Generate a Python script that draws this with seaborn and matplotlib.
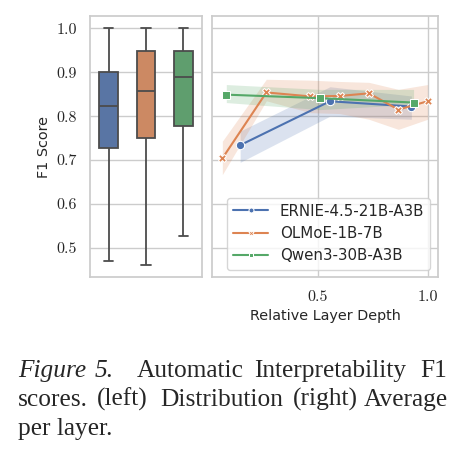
import numpy as np
import pandas as pd
import matplotlib
matplotlib.use("Agg")
import matplotlib.pyplot as plt
import seaborn as sns

# --- datos ---
modelos = ["ERNIE-4.5-21B-A3B", "OLMoE-1B-7B", "Qwen3-30B-A3B"]

# resumen de cinco numeros por modelo (min, q1, mediana, q3, max)
box_ernie = [0.471, 0.727, 0.823, 0.901, 1.0]
box_olmoe = [0.462, 0.751, 0.858, 0.948, 1.0]
box_qwen = [0.527, 0.778, 0.889, 0.948, 1.0]

# promedio por capa
depth_ernie = [0.148, 0.556, 0.926]
f1_ernie = [0.734, 0.834, 0.822]
lo_ernie = [0.695, 0.800, 0.793]
hi_ernie = [0.766, 0.867, 0.846]

depth_olmoe = [0.067, 0.267, 0.467, 0.600, 0.733, 0.867, 1.000]
f1_olmoe = [0.704, 0.854, 0.845, 0.846, 0.852, 0.815, 0.834]
lo_olmoe = [0.667, 0.835, 0.808, 0.806, 0.793, 0.770, 0.793]
hi_olmoe = [0.743, 0.884, 0.882, 0.879, 0.877, 0.861, 0.872]

depth_qwen = [0.085, 0.511, 0.936]
f1_qwen = [0.849, 0.841, 0.831]
lo_qwen = [0.831, 0.815, 0.827]
hi_qwen = [0.872, 0.861, 0.861]

sns.set_theme(style="whitegrid", palette="deep")
plt.rcParams["font.family"] = ["DejaVu Sans"]
colores = sns.color_palette("deep", 3)

df_box = pd.DataFrame({
    "modelo": np.repeat(modelos, 5),
    "f1": box_ernie + box_olmoe + box_qwen,
})
df_line = pd.concat([
    pd.DataFrame({"modelo": m, "depth": d, "f1": f, "lo": lo, "hi": hi})
    for m, d, f, lo, hi in [
        (modelos[0], depth_ernie, f1_ernie, lo_ernie, hi_ernie),
        (modelos[1], depth_olmoe, f1_olmoe, lo_olmoe, hi_olmoe),
        (modelos[2], depth_qwen, f1_qwen, lo_qwen, hi_qwen),
    ]
], ignore_index=True)

W, H = 464, 474
fig = plt.figure(figsize=(W / 100, H / 100), dpi=100)
ax1 = fig.add_axes([90 / W, 1 - 277 / H, 112 / W, 261 / H])
ax2 = fig.add_axes([212 / W, 1 - 277 / H, 226 / W, 261 / H], sharey=ax1)

# (izquierda) distribucion
sns.boxplot(data=df_box, x="modelo", y="f1", hue="modelo", palette=colores,
            width=0.5, whis=(0, 100), linewidth=1.3, ax=ax1, legend=False)
ax1.set_xlabel("")
ax1.set_ylabel("F1 Score", fontsize=10.4)
ax1.set_xticks([])
ax1.grid(False, axis="x")
ax1.set_ylim(0.434, 1.028)
ax1.set_yticks([0.5, 0.6, 0.7, 0.8, 0.9, 1.0])
ax1.set_yticklabels(["0.5", "0.6", "0.7", "0.8", "0.9", "1.0"],
                    fontfamily="cmr10", fontsize=11.5)

# (derecha) promedio por capa
for (m, g), c in zip(df_line.groupby("modelo", sort=False), colores):
    ax2.fill_between(g["depth"], g["lo"], g["hi"], color=c, alpha=0.2, lw=0)
sns.lineplot(data=df_line, x="depth", y="f1", hue="modelo", style="modelo",
             markers=["o", "X", "s"], dashes=False, palette=colores,
             ax=ax2, markersize=6)
ax2.set_xlim(0.02, 1.047)
ax2.set_xticks([0.5, 1.0])
ax2.set_xticklabels(["0.5", "1.0"], fontfamily="cmr10", fontsize=11.5)
ax2.tick_params(axis="y", labelleft=False)
ax2.set_ylabel("")
ax2.set_xlabel("Relative Layer Depth", fontsize=10.4)
ax2.legend(loc="lower right", fontsize=10.8, title=None, markerscale=0.6,
           handlelength=2.3)

# pie de figura
cap = dict(family="Liberation Serif", fontsize=18.3, va="baseline")
fig.text(18 / W, 1 - 377 / H, "Figure", style="italic", **cap)
fig.text(95 / W, 1 - 377 / H, "5.", style="italic", **cap)
for x, w in [(137, "Automatic"), (254, "Interpretability"), (420, "F1")]:
    fig.text(x / W, 1 - 377 / H, w, **cap)
for x, w in [(18, "scores."), (97, "(left)"), (160, "Distribution"),
             (293, "(right)"), (364, "Average")]:
    fig.text(x / W, 1 - 406 / H, w, **cap)
fig.text(18 / W, 1 - 435 / H, "per layer.", **cap)

fig.savefig("out.png", dpi=100)
